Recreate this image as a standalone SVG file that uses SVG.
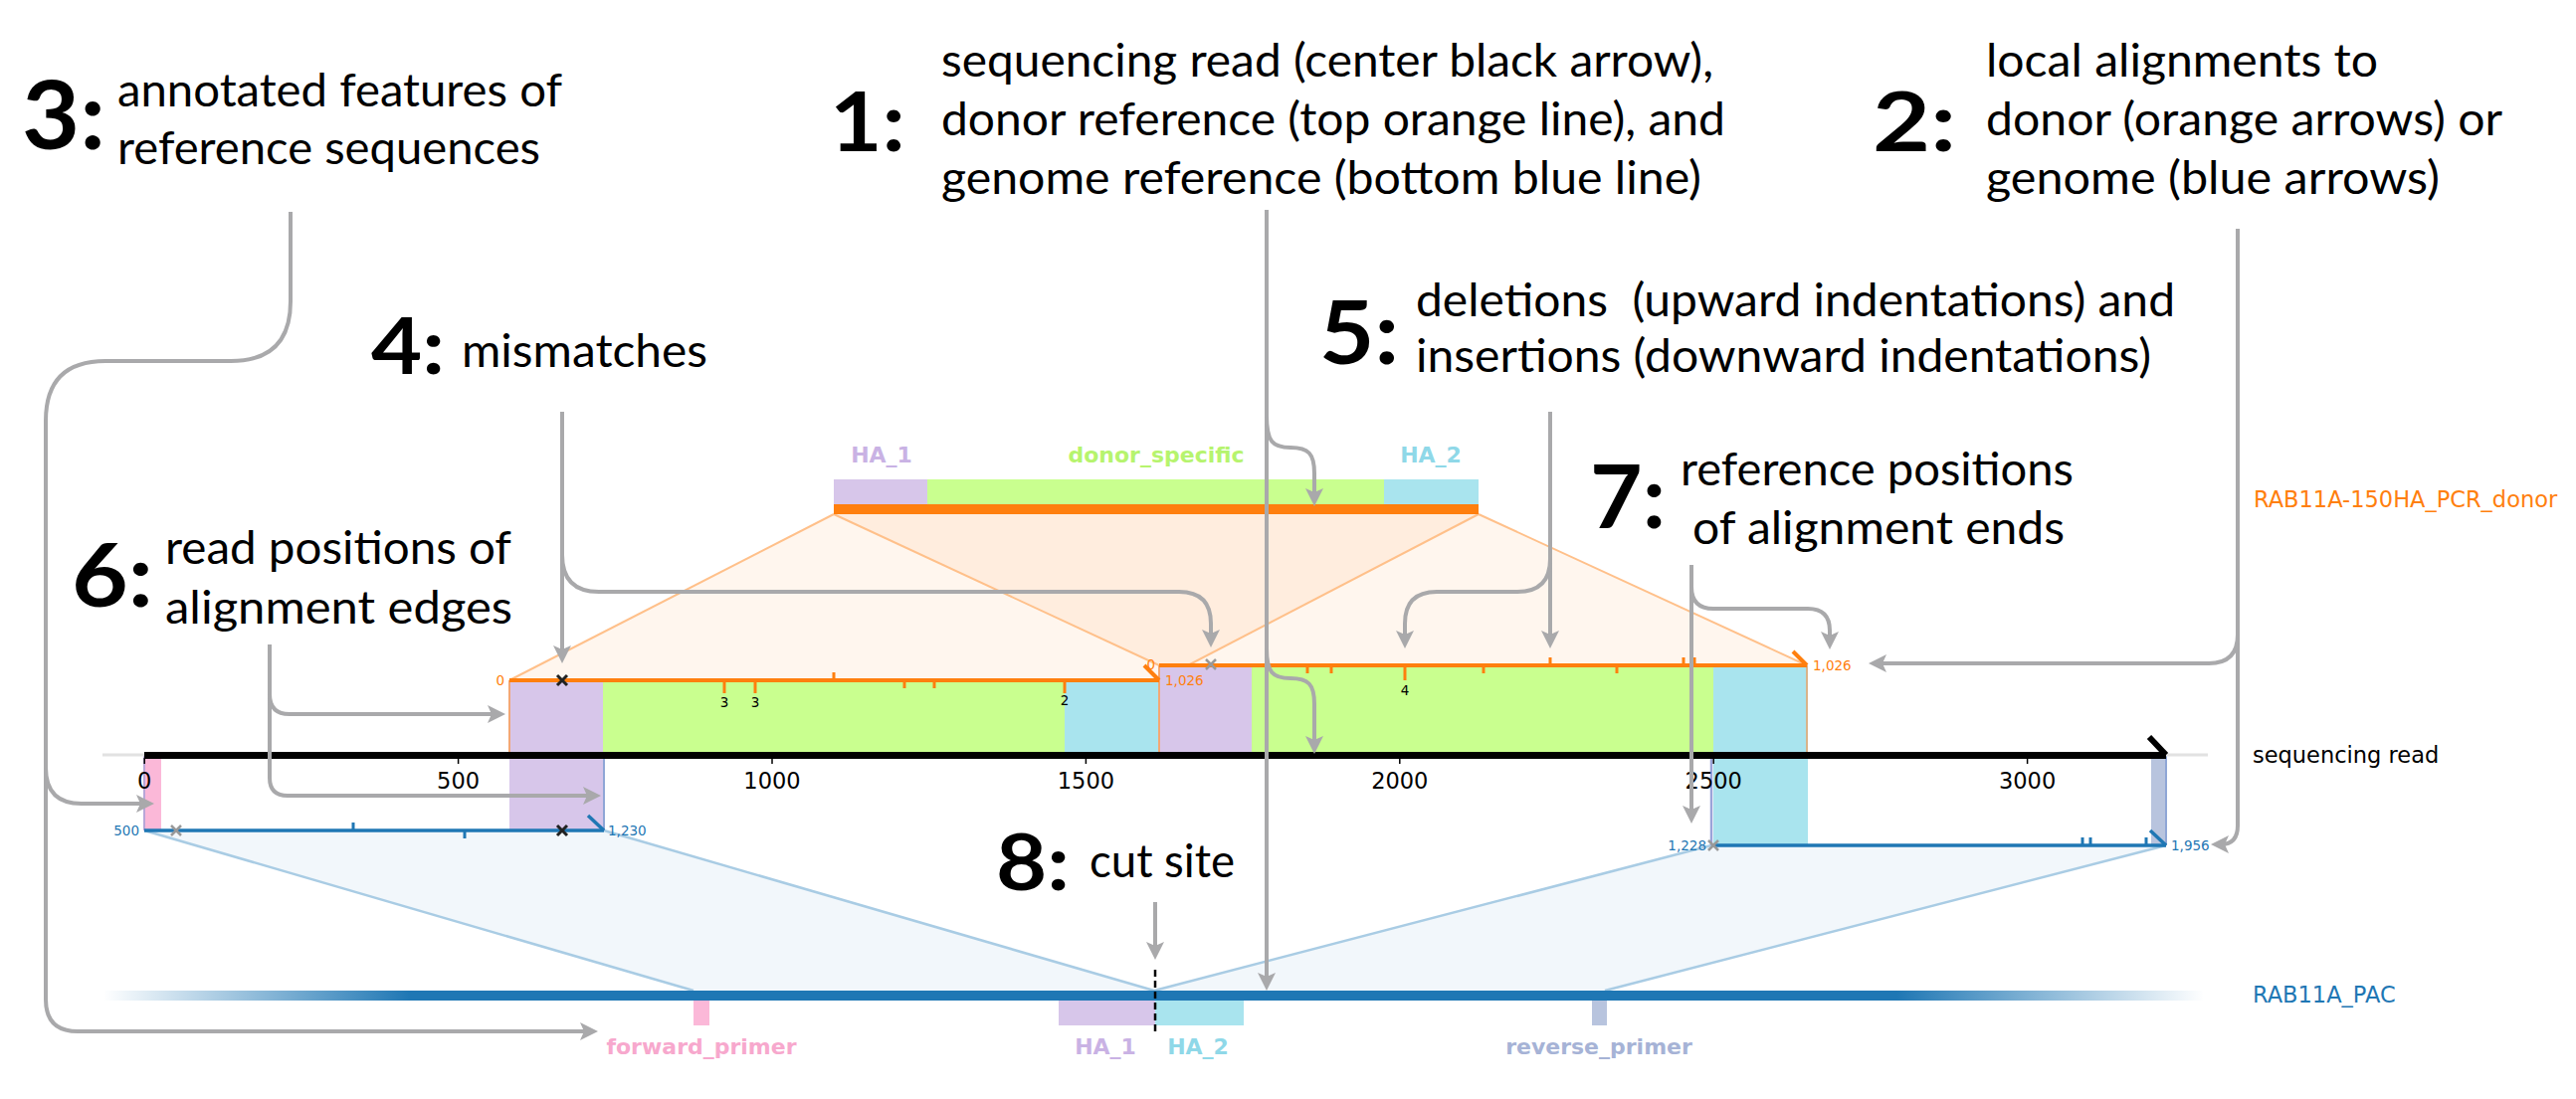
<svg xmlns="http://www.w3.org/2000/svg" width="2589" height="1105" viewBox="0 0 2589 1105">
<defs>
<style>
.ann{font-family:Lato,"Open Sans",sans-serif;font-size:46px;fill:#000}
.num{font-family:Lato,"Open Sans",sans-serif;font-weight:700;fill:#000}
.lab{font-family:"DejaVu Sans",sans-serif;font-size:22.5px}
.tick{font-family:"DejaVu Sans",sans-serif;font-size:22.5px;text-anchor:middle;fill:#000}
.feat{font-family:"DejaVu Sans",sans-serif;font-size:22px;font-weight:bold;text-anchor:middle}
.small{font-family:"DejaVu Sans",sans-serif;font-size:13.5px}
.conn{fill:none;stroke:#a9a9ab;stroke-width:4;marker-end:url(#ah)}
.oedge{stroke:#ffc08a;stroke-width:2;fill:none}
.bedge{stroke:#a9cce4;stroke-width:2.5;fill:none}
.ofill{fill:#ff7f0e;fill-opacity:0.07}
.bfill{fill:#1f77b4;fill-opacity:0.06}
.oline{stroke:#ff7f0e;stroke-width:4;fill:none}
.bline{stroke:#1f77b4;stroke-width:3.5;fill:none}
.otick{stroke:#ff7f0e;stroke-width:3}
.btick{stroke:#1f77b4;stroke-width:3}
.xk{stroke:#222;stroke-width:3}
.xg{stroke:#999;stroke-width:2.5}
.purple{fill:#d7c6ea}
.green{fill:#c9ff8f}
.cyan{fill:#a9e4ee}
.pink{fill:#fbb8d8}
.rev{fill:#b8c4de}
</style>
<marker id="ah" markerUnits="userSpaceOnUse" markerWidth="20" markerHeight="18" refX="8" refY="9" orient="auto"><path d="M0,0 L18,9 L0,18 L4,9 Z" fill="#a9a9ab"/></marker>
<linearGradient id="gbar" gradientUnits="userSpaceOnUse" x1="104" y1="0" x2="2215" y2="0">
<stop offset="0" stop-color="#1f77b4" stop-opacity="0"/>
<stop offset="0.146" stop-color="#1f77b4" stop-opacity="1"/>
<stop offset="0.854" stop-color="#1f77b4" stop-opacity="1"/>
<stop offset="1" stop-color="#1f77b4" stop-opacity="0"/>
</linearGradient>
</defs>
<rect width="2589" height="1105" fill="#fff"/>

<g id="projections">
<polygon class="ofill" points="838,517 1486,517 1165,684 512,684"/>
<polygon class="ofill" points="838,517 1486,517 1816,669 1165,669"/>
<line class="oedge" x1="838" y1="517" x2="512" y2="684"/>
<line class="oedge" x1="1486" y1="517" x2="1165" y2="684"/>
<line class="oedge" x1="838" y1="517" x2="1165" y2="669"/>
<line class="oedge" x1="1486" y1="517" x2="1816" y2="669"/>
<polygon class="bfill" points="145,835 607,835 1160,996 697,996"/>
<polygon class="bfill" points="1720,850 2177,850 1613,996 1160,996"/>
<line class="bedge" x1="145" y1="835" x2="697" y2="996"/>
<line class="bedge" x1="607" y1="835" x2="1160" y2="996"/>
<line class="bedge" x1="1720" y1="850" x2="1160" y2="996"/>
<line class="bedge" x1="2177" y1="850" x2="1613" y2="996"/>
</g>

<g id="read-features">
<rect class="purple" x="512" y="684" width="94" height="74"/>
<rect class="green" x="606" y="684" width="464" height="74"/>
<rect class="cyan" x="1070" y="684" width="95" height="74"/>
<rect class="purple" x="1165" y="669" width="93" height="89"/>
<rect class="green" x="1258" y="669" width="464" height="89"/>
<rect class="cyan" x="1722" y="669" width="94" height="89"/>
<rect class="pink" x="145" y="762" width="17" height="73"/>
<rect class="purple" x="512" y="762" width="95" height="73"/>
<rect class="cyan" x="1722" y="762" width="95" height="88"/>
<rect class="rev" x="2162" y="762" width="15" height="88"/>
<line x1="512" y1="684" x2="512" y2="760" stroke="#f3a775" stroke-width="2"/>
<line x1="1165" y1="669" x2="1165" y2="760" stroke="#f3a775" stroke-width="2"/>
<line x1="1816" y1="669" x2="1816" y2="760" stroke="#d9b48a" stroke-width="2"/>
<line x1="145" y1="760" x2="145" y2="835" stroke="#b9a6d8" stroke-width="2"/>
<line x1="607" y1="760" x2="607" y2="835" stroke="#8fa6d6" stroke-width="2"/>
<line x1="1720" y1="760" x2="1720" y2="850" stroke="#9aa3d8" stroke-width="2.5"/>
<line x1="2177" y1="760" x2="2177" y2="850" stroke="#8fa6d6" stroke-width="2"/>
</g>

<g id="read">
<line x1="103" y1="759" x2="2219" y2="759" stroke="#e2e2e2" stroke-width="3"/>
<line x1="145" y1="759.5" x2="2177" y2="759.5" stroke="#000" stroke-width="7"/>
<line x1="2160" y1="741" x2="2177" y2="759" stroke="#000" stroke-width="6"/>
<g stroke="#000" stroke-width="1.5">
<line x1="145.2" y1="762" x2="145.2" y2="768"/>
<line x1="460.6" y1="762" x2="460.6" y2="768"/>
<line x1="776" y1="762" x2="776" y2="768"/>
<line x1="1091.4" y1="762" x2="1091.4" y2="768"/>
<line x1="1406.8" y1="762" x2="1406.8" y2="768"/>
<line x1="1722.2" y1="762" x2="1722.2" y2="768"/>
<line x1="2037.6" y1="762" x2="2037.6" y2="768"/>
</g>
<text class="tick" x="145.2" y="793">0</text>
<text class="tick" x="460.6" y="793">500</text>
<text class="tick" x="776" y="793">1000</text>
<text class="tick" x="1091.4" y="793">1500</text>
<text class="tick" x="1406.8" y="793">2000</text>
<text class="tick" x="1722.2" y="793">2500</text>
<text class="tick" x="2037.6" y="793">3000</text>
<text class="lab" x="2264" y="767" fill="#000">sequencing read</text>
</g>

<g id="donor-alignment-1">
<line class="oline" x1="512" y1="684" x2="1165" y2="684"/>
<line class="oline" x1="1150" y1="669" x2="1165" y2="684"/>
<line class="otick" x1="838" y1="684" x2="838" y2="676"/>
<line class="otick" x1="728" y1="684" x2="728" y2="697"/>
<line class="otick" x1="759" y1="684" x2="759" y2="697"/>
<line class="otick" x1="909" y1="684" x2="909" y2="692"/>
<line class="otick" x1="939" y1="684" x2="939" y2="692"/>
<line class="otick" x1="1070" y1="684" x2="1070" y2="697"/>
<text class="small" x="728" y="711" text-anchor="middle">3</text>
<text class="small" x="759" y="711" text-anchor="middle">3</text>
<text class="small" x="1070" y="709" text-anchor="middle">2</text>
<path class="xk" d="M560,679 L570,689 M570,679 L560,689"/>
<text class="small" x="507" y="689" text-anchor="end" fill="#ff7f0e">0</text>
<text class="small" x="1171" y="689" fill="#ff7f0e">1,026</text>
</g>

<g id="donor-alignment-2">
<line class="oline" x1="1165" y1="669" x2="1816" y2="669"/>
<line class="oline" x1="1802" y1="655" x2="1816" y2="669"/>
<line class="otick" x1="1314" y1="669" x2="1314" y2="677"/>
<line class="otick" x1="1338" y1="669" x2="1338" y2="677"/>
<line class="otick" x1="1412" y1="669" x2="1412" y2="684"/>
<line class="otick" x1="1491" y1="669" x2="1491" y2="677"/>
<line class="otick" x1="1625" y1="669" x2="1625" y2="677"/>
<line class="otick" x1="1558" y1="669" x2="1558" y2="661"/>
<line class="otick" x1="1692" y1="669" x2="1692" y2="661"/>
<line class="otick" x1="1703" y1="669" x2="1703" y2="661"/>
<text class="small" x="1412" y="699" text-anchor="middle">4</text>
<path class="xg" d="M1212,663 L1222,673 M1222,663 L1212,673"/>
<text class="small" x="1161" y="673" text-anchor="end" fill="#ff7f0e">0</text>
<text class="small" x="1822" y="674" fill="#ff7f0e">1,026</text>
</g>

<g id="genome-alignment-1">
<line class="bline" x1="145" y1="835" x2="607" y2="835"/>
<line class="bline" x1="591" y1="820" x2="607" y2="835"/>
<line class="btick" x1="355" y1="835" x2="355" y2="827"/>
<line class="btick" x1="467" y1="835" x2="467" y2="843"/>
<path class="xg" d="M172,830 L182,840 M182,830 L172,840"/>
<path class="xk" d="M560,830 L570,840 M570,830 L560,840"/>
<text class="small" x="140" y="840" text-anchor="end" fill="#1f77b4">500</text>
<text class="small" x="611" y="840" fill="#1f77b4">1,230</text>
</g>

<g id="genome-alignment-2">
<line class="bline" x1="1720" y1="850" x2="2177" y2="850"/>
<line class="bline" x1="2161" y1="835" x2="2177" y2="850"/>
<line class="btick" x1="2093" y1="850" x2="2093" y2="842"/>
<line class="btick" x1="2101" y1="850" x2="2101" y2="842"/>
<line class="btick" x1="2157" y1="850" x2="2157" y2="842"/>
<path class="xg" d="M1717,845 L1727,855 M1727,845 L1717,855"/>
<text class="small" x="1715" y="855" text-anchor="end" fill="#1f77b4">1,228</text>
<text class="small" x="2182" y="855" fill="#1f77b4">1,956</text>
</g>

<g id="donor-reference">
<rect class="purple" x="838" y="482" width="94" height="25"/>
<rect class="green" x="932" y="482" width="459" height="25"/>
<rect class="cyan" x="1391" y="482" width="95" height="25"/>
<rect x="838" y="507" width="648" height="10" fill="#ff7f0e"/>
<text class="feat" x="886" y="465" fill="#c9b2e4">HA_1</text>
<text class="feat" x="1162" y="465" fill="#b6f46e">donor_specific</text>
<text class="feat" x="1438" y="465" fill="#8fd8e8">HA_2</text>
<text class="lab" x="2265" y="510" fill="#ff7f0e">RAB11A-150HA_PCR_donor</text>
</g>

<g id="genome-reference">
<rect x="104" y="996" width="2111" height="10" fill="url(#gbar)"/>
<rect class="pink" x="697" y="1006" width="16" height="25"/>
<rect class="purple" x="1064" y="1006" width="97" height="25"/>
<rect class="cyan" x="1161" y="1006" width="89" height="25"/>
<rect class="rev" x="1600" y="1006" width="15" height="25"/>
<text class="feat" x="705" y="1060" fill="#f7a8cd">forward_primer</text>
<text class="feat" x="1111" y="1060" fill="#c9b2e4">HA_1</text>
<text class="feat" x="1204" y="1060" fill="#8fd8e8">HA_2</text>
<text class="feat" x="1607" y="1060" fill="#a6b3d6">reverse_primer</text>
<line x1="1161" y1="975" x2="1161" y2="1038" stroke="#000" stroke-width="2.5" stroke-dasharray="7 4"/>
<text class="lab" x="2264" y="1008" fill="#1f77b4">RAB11A_PAC</text>
</g>

<g id="connectors">
<path class="conn" d="M1273,211 V986"/>
<path class="conn" d="M1273,418 C1273,444 1279,450 1297,450 C1315,450 1321,456 1321,476 V499"/>
<path class="conn" d="M1273,652 C1273,676 1279,682 1297,682 C1315,682 1321,688 1321,708 V748"/>
<path class="conn" d="M2249,230 V830 Q2249,849 2232,849"/>
<path class="conn" d="M2249,638 Q2249,667 2220,667 H1888"/>
<path class="conn" d="M292,213 V303 Q292,363 232,363 H106 Q46,363 46,423 V1005 Q46,1037 78,1037 H591"/>
<path class="conn" d="M46,772 Q46,808 82,808 H145"/>
<path class="conn" d="M565,414 V657"/>
<path class="conn" d="M565,558 Q565,595 602,595 H1185 Q1217,595 1217,627 V641"/>
<path class="conn" d="M1558,414 V642"/>
<path class="conn" d="M1558,562 Q1558,595 1525,595 H1444 Q1412,595 1412,627 V642"/>
<path class="conn" d="M271,648 V782 Q271,800 289,800 H594"/>
<path class="conn" d="M271,698 Q271,718 291,718 H498"/>
<path class="conn" d="M1700,568 V818"/>
<path class="conn" d="M1700,590 Q1700,612 1722,612 H1817 Q1839,612 1839,634 V643"/>
<path class="conn" d="M1161,907 V955"/>
</g>

<g id="note-1">
<text class="num" x="834" y="152" font-size="82" textLength="76" lengthAdjust="spacingAndGlyphs">1:</text>
<text class="ann" x="946" y="77" textLength="776" lengthAdjust="spacingAndGlyphs">sequencing read (center black arrow),</text>
<text class="ann" x="946" y="136" textLength="788" lengthAdjust="spacingAndGlyphs">donor reference (top orange line), and</text>
<text class="ann" x="946" y="195" textLength="764" lengthAdjust="spacingAndGlyphs">genome reference (bottom blue line)</text>
</g>
<g id="note-2">
<text class="num" x="1882" y="152" font-size="82" textLength="84" lengthAdjust="spacingAndGlyphs">2:</text>
<text class="ann" x="1996" y="77" textLength="394" lengthAdjust="spacingAndGlyphs">local alignments to</text>
<text class="ann" x="1996" y="136" textLength="519" lengthAdjust="spacingAndGlyphs">donor (orange arrows) or</text>
<text class="ann" x="1996" y="195" textLength="456" lengthAdjust="spacingAndGlyphs">genome (blue arrows)</text>
</g>
<g id="note-3">
<text class="num" x="22" y="150" font-size="96" textLength="84" lengthAdjust="spacingAndGlyphs">3:</text>
<text class="ann" x="118" y="107" textLength="447" lengthAdjust="spacingAndGlyphs">annotated features of</text>
<text class="ann" x="118" y="165" textLength="425" lengthAdjust="spacingAndGlyphs">reference sequences</text>
</g>
<g id="note-4">
<text class="num" x="373" y="376" font-size="78" textLength="74" lengthAdjust="spacingAndGlyphs">4:</text>
<text class="ann" x="464" y="369" textLength="247" lengthAdjust="spacingAndGlyphs">mismatches</text>
</g>
<g id="note-5">
<text class="num" x="1326" y="366" font-size="88" textLength="80" lengthAdjust="spacingAndGlyphs">5:</text>
<text class="ann" x="1423" y="318" textLength="763" lengthAdjust="spacingAndGlyphs" xml:space="preserve">deletions  (upward indentations) and</text>
<text class="ann" x="1423" y="374" textLength="739" lengthAdjust="spacingAndGlyphs">insertions (downward indentations)</text>
</g>
<g id="note-6">
<text class="num" x="72" y="610" font-size="88" textLength="82" lengthAdjust="spacingAndGlyphs">6:</text>
<text class="ann" x="166" y="567" textLength="348" lengthAdjust="spacingAndGlyphs">read positions of</text>
<text class="ann" x="166" y="627" textLength="349" lengthAdjust="spacingAndGlyphs">alignment edges</text>
</g>
<g id="note-7">
<text class="num" x="1598" y="531" font-size="88" textLength="76" lengthAdjust="spacingAndGlyphs">7:</text>
<text class="ann" x="1689" y="488" textLength="395" lengthAdjust="spacingAndGlyphs">reference positions</text>
<text class="ann" x="1701" y="547" textLength="374" lengthAdjust="spacingAndGlyphs">of alignment ends</text>
</g>
<g id="note-8">
<text class="num" x="1001" y="895" font-size="78" textLength="74" lengthAdjust="spacingAndGlyphs">8:</text>
<text class="ann" x="1095" y="882" textLength="146" lengthAdjust="spacingAndGlyphs">cut site</text>
</g>
</svg>
